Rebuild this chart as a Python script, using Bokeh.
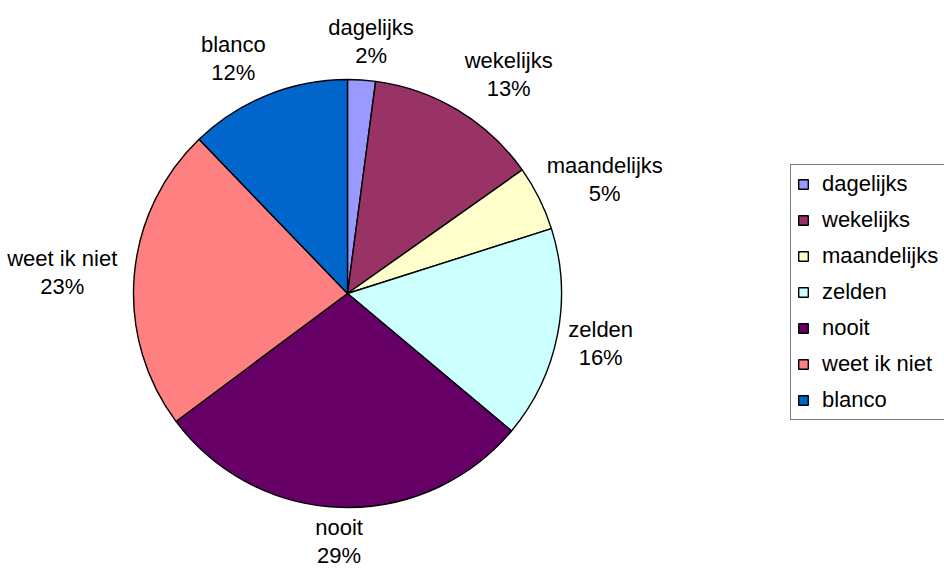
import math
from bokeh.plotting import figure
from bokeh.models import ColumnDataSource, Range1d, Legend, LegendItem
from bokeh.embed import file_html
from bokeh.resources import INLINE
from bokeh.core.properties import value

categories = ["dagelijks", "wekelijks", "maandelijks", "zelden", "nooit", "weet ik niet", "blanco"]
shares = [2.1, 13.1, 4.9, 16.0, 28.7, 23.0, 12.2]
pct_labels = ["2%", "13%", "5%", "16%", "29%", "23%", "12%"]
colors = ["#9999FF", "#993366", "#FFFFCC", "#CCFFFF", "#660066", "#FF8080", "#0066CC"]

W, H = 944, 571
FONT = "Liberation Sans"
FS = 22

# pie geometry (layout, in screen pixels of the frame; y measured from bottom)
cx, cy, r = 347, 278, 214

total = sum(shares)
starts, ends, lx, ly, texts = [], [], [], [], []
cum = 0.0
for cat, s, pl in zip(categories, shares, pct_labels):
    a0 = math.pi / 2 - 2 * math.pi * cum / total
    cum += s
    a1 = math.pi / 2 - 2 * math.pi * cum / total
    starts.append(a0)
    ends.append(a1)
    mid = (a0 + a1) / 2
    ux, uy = math.cos(mid), math.sin(mid)
    w = max(len(cat), len(pl)) * 9.5
    h = 46
    d = r + 15 if uy > -0.9 else r + 11
    sx = max(-1.0, min(1.0, 3 * ux))
    sy = max(-1.0, min(1.0, 1.2 * uy))
    lx.append(cx + d * ux + sx * w / 2)
    ly.append(cy + d * uy + sy * h / 2)
    texts.append(cat + "\n" + pl)

src = ColumnDataSource(dict(cat=categories, start=starts, end=ends, color=colors))

p = figure(width=W, height=H, x_range=Range1d(0, W), y_range=Range1d(0, H),
           output_backend="svg", toolbar_location=None, min_border=0,
           x_axis_location=None, y_axis_location=None)
p.grid.visible = False
p.outline_line_color = None
p.background_fill_color = "white"
p.border_fill_color = "white"

wedges = p.wedge(x=cx, y=cy, radius=r, start_angle="start", end_angle="end",
                 direction="clock", fill_color="color", line_color="black",
                 line_width=1.4, source=src)

lsrc = ColumnDataSource(dict(x=lx, y=ly, t=texts))
p.text(x="x", y="y", text="t", source=lsrc, text_align="center",
       text_baseline="middle", text_font=value(FONT), text_font_size=f"{FS}px",
       text_color="black", text_line_height=1.12)

items = [LegendItem(label=c, renderers=[wedges], index=i) for i, c in enumerate(categories)]
legend = Legend(items=items, location=(790, 151), orientation="vertical",
                border_line_color="black", border_line_width=1,
                background_fill_color="white", background_fill_alpha=1,
                padding=6, spacing=10, margin=0, glyph_width=12, glyph_height=12,
                label_standoff=13, label_height=24,
                label_text_font=FONT, label_text_font_size=f"{FS}px",
                label_text_color="black")
p.add_layout(legend, "center")

open("out.html", "w").write(file_html(p, INLINE))
